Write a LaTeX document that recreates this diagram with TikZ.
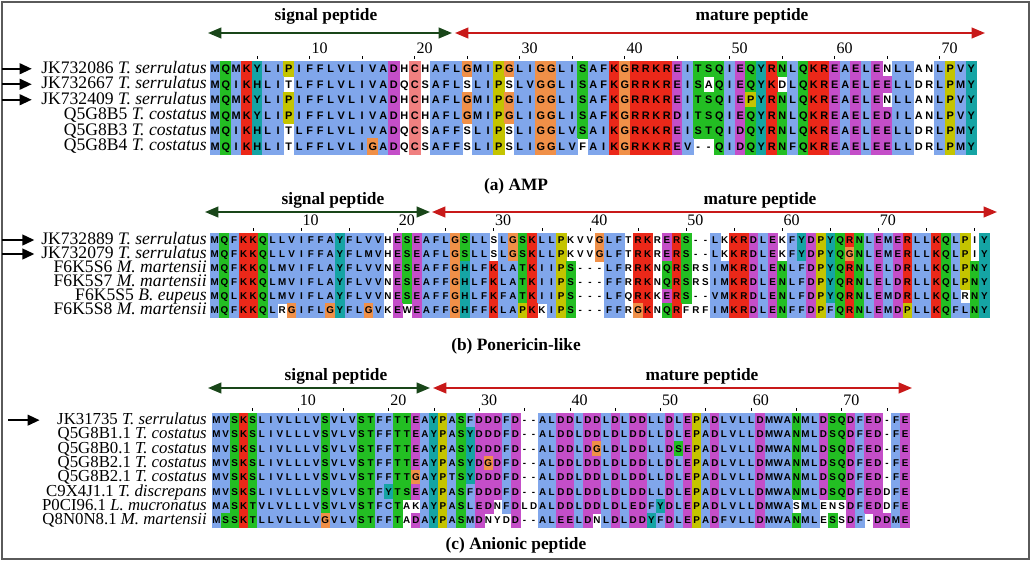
\documentclass[tikz,border=0pt]{standalone}
\usepackage{fontspec}
\setmainfont{Liberation Serif}
\setsansfont{Liberation Sans}
\usetikzlibrary{arrows.meta, positioning}
\definecolor{cxblue}{RGB}{128,166,235}
\definecolor{cxred}{RGB}{235,40,25}
\definecolor{cxgreen}{RGB}{35,190,35}
\definecolor{cxpink}{RGB}{240,128,128}
\definecolor{cxmagenta}{RGB}{196,78,200}
\definecolor{cxorange}{RGB}{240,144,72}
\definecolor{cxcyan}{RGB}{21,164,164}
\definecolor{cxyellow}{RGB}{196,196,0}
\definecolor{siggreen}{RGB}{25,70,25}
\definecolor{matred}{RGB}{200,25,25}
\definecolor{framegray}{RGB}{90,90,90}

% one alignment row: residue letter followed by its colour code
\newcount\rescol
\def\resrow#1#2#3{\def\rowid{#1}\def\rowtop{#2}\rescol=0
  \expandafter\resnext#3\relax\relax}
\def\resnext#1#2{\ifx\relax#1\else
  \advance\rescol by 1
  \pgfmathsetmacro\cellx{\colx+(\the\rescol-1)*\colw}
  \fill[res#2] (\cellx,\rowtop) rectangle ++(\colw,\rowh);
  \node[resletter] (\rowid-\the\rescol) at ({\cellx+\colw/2},{\rowtop+\rowh/2+\resdrop}) {#1};
  \expandafter\resnext\fi}

\tikzset{
  resletter/.style={inner sep=0pt, anchor=base, font=\resfont},
  resb/.style={fill=cxblue, draw=cxblue, line width=0.2pt},
  resr/.style={fill=cxred, draw=cxred, line width=0.2pt},
  resg/.style={fill=cxgreen, draw=cxgreen, line width=0.2pt},
  resk/.style={fill=cxpink, draw=cxpink, line width=0.2pt},
  resm/.style={fill=cxmagenta, draw=cxmagenta, line width=0.2pt},
  reso/.style={fill=cxorange, draw=cxorange, line width=0.2pt},
  resc/.style={fill=cxcyan, draw=cxcyan, line width=0.2pt},
  resy/.style={fill=cxyellow, draw=cxyellow, line width=0.2pt},
  resw/.style={fill=none},
  seqname/.style={inner sep=0pt, anchor=base east, font=\fontsize{13.2}{15}\selectfont},
  secttitle/.style={inner sep=0pt, anchor=base, font=\fontsize{13}{15}\selectfont\bfseries},
  panellabel/.style={inner sep=0pt, anchor=base, font=\fontsize{13}{15}\selectfont\bfseries},
  rulenum/.style={inner sep=0pt, anchor=base west, font=\fontsize{12}{14}\selectfont},
  rultick/.style={black, line width=0.5pt},
  sigarrow/.style={siggreen, line width=1.5pt, {Triangle[length=10pt,width=8pt]}-{Triangle[length=10pt,width=8pt]}},
  matarrow/.style={matred, line width=1.5pt, {Triangle[length=10pt,width=8pt]}-{Triangle[length=10pt,width=8pt]}},
  markarrow/.style={black, line width=1.5pt, -{Triangle[length=9pt,width=8pt]}}
}

\begin{document}
\begin{tikzpicture}[x=0.75pt, y=-0.75pt]
    \useasboundingbox (0,0) rectangle (1032,561);
    \draw[framegray, line width=1.2pt] (2,2) rectangle (1029,559);

    % (a) AMP
    \node[secttitle] (sigA) at (326,20.5) {signal peptide};
    \node[secttitle] (matA) at (752,20.5) {mature peptide};
    \coordinate (sigA-l) at (208,33);
    \coordinate (sigA-r) at (452,33);
    \coordinate (matA-l) at (455,33);
    \coordinate (matA-r) at (985,33);
    \draw[sigarrow] (sigA-l) -- (sigA-r);
    \draw[matarrow] (matA-l) -- (matA-r);

    \def\colx{210}\def\colw{10.5}\def\rowh{15.5}\def\resdrop{3.9}
    \def\resfont{\sffamily\bfseries\fontsize{8.2}{9}\selectfont}
    \foreach \n in {10,20,...,70}
        \node[rulenum] (rA\n) at ({\colx+(\n-0.5)*\colw+1.5},53) {\n};
    \foreach \n in {5,10,...,70}
        \draw[rultick] ({\colx+(\n-0.5)*\colw},56) -- ++(0,2.5);

    \resrow{a1}{61}{MbQgMbKrYcLbIbPyIbFb FbLbVbLbIbVbAbDmHwCk HwAbFbLbGoMbIbPyGoLb IbGoGoLbIbSgAbFbKrGo RrRrKrRrEmIbTgSgQgIb EmQgYcRrNgLbQgKrRrEm AbEmLbEmNwLbLbAwNwLb PyVbYc}
    \resrow{a2}{76.5}{MbQgIbKrHcLbIbTwLbFb FbLbVbLbIbVbAbDmQwCk SwAbFbLbSwLbIbPySwLb VbGoGoLbIbSgAbFbKrGo RrRrKrRrEmIbSgAwQgIb EmQgYcKrDwLbQgKrRrEm AbEmLbEmEmLbLbDwRwLb PyMbYc}
    \resrow{a3}{92}{MbQgMbKrYcLbIbPyIbFb FbLbVbLbIbVbAbDmHwCk HwAbFbLbGoMbIbPyGoLb IbGoGoLbIbSgAbFbKrGo RrRrKrRrEmIbTgSgQgIb EmPyYcRrNgLbQgKrRrEm AbEmLbEmNwLbLbAwNwLb PyVbYc}
    \resrow{a4}{107.5}{MbQgMbKrYcLbIbPyIbFb FbLbVbLbIbVbAbDmHwCk HwAbFbLbGoMbIbPyGoLb IbGoGoLbIbSgAbFbKrGo RrRrKrRrDmIbTgSgQgIb EmQgYcRrNgLbQgKrRrEm AbEmLbEmDmIbLbAwNwLb PyVbYc}
    \resrow{a5}{123}{MbQgIbKrHcLbIbTwLbFb FbLbVbLbIbVbAbDmQwCk SwAbFbFbSwLbIbPySwLb IbGoGoLbVbSgAbIbKrGo RrKrKrRrEmIbSgTgQgIb DmQgYcRrNgLbQgKrRrEm AbEmLbEmEmLbLbDwRwLb PyMbYc}
    \resrow{a6}{138.5}{MbQgIbKrHcLbIbTwLbFb FbLbVbLbIbGoAbDmQwCk SwAbFbFbSwLbIbPySwLb IbGoGoLbVbFwAbIbKrGo RrKrKrRrEmVb-w-wQgIb DmQgYcRrNgFbQgKrRrEm AbEmLbEmEmLbLbDwRwLb PyMbYc}

    \node[seqname] (la1) at (207,73.25) {JK732086 \textit{T. serrulatus}};
    \node[seqname] (la2) at (207,88.75) {JK732667 \textit{T. serrulatus}};
    \node[seqname] (la3) at (207,104.25) {JK732409 \textit{T. serrulatus}};
    \node[seqname] (la4) at (207,119.75) {Q5G8B5 \textit{T. costatus}};
    \node[seqname] (la5) at (207,135.25) {Q5G8B3 \textit{T. costatus}};
    \node[seqname] (la6) at (207,150.75) {Q5G8B4 \textit{T. costatus}};

    \coordinate (inA1) at (2,68.75);
    \coordinate (inA2) at (2,84.25);
    \coordinate (inA3) at (2,99.75);
    \draw[markarrow, shorten >=7pt] (inA1) -- (la1.west |- inA1);
    \draw[markarrow, shorten >=7pt] (inA2) -- (la2.west |- inA2);
    \draw[markarrow, shorten >=7pt] (inA3) -- (la3.west |- inA3);

    \node[panellabel] (capA) at (516,190) {(a) AMP};

    % (b) Ponericin-like
    \node[secttitle] (sigB) at (333,204) {signal peptide};
    \node[secttitle] (matB) at (760,204) {mature peptide};
    \coordinate (sigB-l) at (205,212);
    \coordinate (sigB-r) at (430,212);
    \coordinate (matB-l) at (432,212);
    \coordinate (matB-r) at (997,212);
    \draw[sigarrow] (sigB-l) -- (sigB-r);
    \draw[matarrow] (matB-l) -- (matB-r);

    \def\colx{210}\def\colw{9.62}\def\rowh{14}\def\resdrop{3.5}
    \def\resfont{\sffamily\bfseries\fontsize{7.4}{8}\selectfont}
    \foreach \n in {10,20,...,70}
        \node[rulenum] (rB\n) at ({\colx+(\n-0.5)*\colw+1},225) {\n};
    \foreach \n in {5,10,...,80}
        \draw[rultick] ({\colx+(\n-0.5)*\colw},228) -- ++(0,2.5);

    \resrow{b1}{233}{MbQgFbKrKrQgLbLbVbIb FbFbAbYcFbLbVbVbHwEm SgEmAbFbLbGoSgLbLbSw LbGoSgKrLbLbPyKwVwVw GoLbFbTwRrKrRwEmRrSg -w-wLbKwKrRrDmLbEmKw FbYcDmPyYcQgRrNgLbEm MbEmRrLbLbKrQgLbPyIwYc}
    \resrow{b2}{247}{MbQgFbKrKrQgLbLbVbIb FbFbAbYcFbLbMbVbHwEm SgEmAbFbLbGoSgLbLbSw LbGoSgKrLbLbPyKwVwVw GoLbFbTwRrKrRwEmRrSg -w-wLbKwKrRrDmLbEmKw FbYcDmPyYcQgGoNgLbEm MbEmRrLbLbKrQgLbPyIwYc}
    \resrow{b3}{261}{MbQgFbKrKrQgLbMbVbIb FbLbAbYcFbLbVbVbNwEm SgEmAbFbFbGoHcLbFbKr LbAbTgKrIbIbPySg-w-w -wLbFbRwRrKrNwQgRrSg RwSwIbMbKrRrDmLbEmNg LbFbDmPyYcQgRrNgLbEm LbDmRrLbLbKrQgLbPyNgYc}
    \resrow{b4}{275}{MbQgFbKrKrQgLbMbVbIb FbLbAbYcFbLbVbVbNwEm SgEmAbFbFbGoHcLbFbKr LbAbTgKrIbIbPySg-w-w -wFbFbRwRrKrNwQgRrSg RwSwIbMbKrRrDmLbEmNg LbFbDmPyYcQgRrNgLbEm LbDmRrLbLbKrQgLbPyNgYc}
    \resrow{b5}{289}{MbQgLbKrKrQgLbMbVbIb FbLbAbYcFbLbVbVbNwEm SgEmAbFbFbGoHcLbFbKr FbAbTgKrIbIbPySg-w-w -wLbFbQwRrKrKwEmRrSg -w-wVbMbKrRrDmLbEmNg LbFbDmPyYcQgRrNgLbEm MbDmRrLbLbKrQgLbRwNgYc}
    \resrow{b6}{303}{MbQgFbKrKrQgLbRwGoIb FbLbGoYcFbLbGoVbKwEm WwEmAbFbFbGoHcFbFbKr LbAbPyKrKwIbPySg-w-w -wFbFbRwGoKrNwQgRrFw RwFwIbMbKrRrDmLbEmNg FbFbDmPyFbQgRrNgLbEm MbDmPyLbLbKrQgFbLbNgYc}

    \node[seqname] (lb1) at (207,244.5) {JK732889 \textit{T. serrulatus}};
    \node[seqname] (lb2) at (207,258.5) {JK732079 \textit{T. serrulatus}};
    \node[seqname] (lb3) at (207,272.5) {F6K5S6 \textit{M. martensii}};
    \node[seqname] (lb4) at (207,286.5) {F6K5S7 \textit{M. martensii}};
    \node[seqname] (lb5) at (207,300.5) {F6K5S5 \textit{B. eupeus}};
    \node[seqname] (lb6) at (207,314.5) {F6K5S8 \textit{M. martensii}};

    \coordinate (inB1) at (2,240);
    \coordinate (inB2) at (2,254);
    \draw[markarrow, shorten >=5pt] (inB1) -- (lb1.west |- inB1);
    \draw[markarrow, shorten >=5pt] (inB2) -- (lb2.west |- inB2);

    \node[panellabel] (capB) at (516,350) {(b) Ponericin-like};

    % (c) Anionic peptide
    \node[secttitle] (sigC) at (336,380) {signal peptide};
    \node[secttitle] (matC) at (702,380) {mature peptide};
    \coordinate (sigC-l) at (208,388);
    \coordinate (sigC-r) at (430,388);
    \coordinate (matC-l) at (433,388);
    \coordinate (matC-r) at (912,388);
    \draw[sigarrow] (sigC-l) -- (sigC-r);
    \draw[matarrow] (matC-l) -- (matC-r);

    \def\colx{212}\def\colw{9.06}\def\rowh{14.3}\def\resdrop{3.5}
    \def\resfont{\sffamily\bfseries\fontsize{7.4}{8}\selectfont}
    \foreach \n in {10,20,...,70}
        \node[rulenum] (rC\n) at ({\colx+(\n-0.5)*\colw+1.5},405) {\n};
    \foreach \n in {5,10,...,75}
        \draw[rultick] ({\colx+(\n-0.5)*\colw},408) -- ++(0,2.5);

    \resrow{c1}{413}{MbVbSgKrSgLbIbVbLbLb LbVbSgVbLbVbSgTgFbFb TgTgEmAbYcPyAbSgFbDm DmDmFbDm-w-wAbLbDmDm LbDmDmLbDmLbDmDmLbLb DmLbEmPyAbDmLbVbLbLb DmMbWbAbNgMbLbDmSgQg DmFbEmDm-wFbEm}
    \resrow{c2}{427.3}{MbVbSgKrSgLbIbVbLbLb LbVbSgVbLbVbSgTgFbFb TgTgEmAbYcPyAbSgYcDm DmDmFbDm-w-wAbLbDmDm LbDmDmLbDmLbDmDmLbLb DmLbEmPyAbDmLbVbLbLb DmMbWbAbNgMbLbDmSgQg DmFbEmDm-wFbEm}
    \resrow{c3}{441.6}{MbVbSgKrSgLbIbVbLbLb LbVbSgVbLbVbSgTgFbFb TgTgEmAbYcPyAbSgYcDm DmDmFbDm-w-wAbLbDmDm LbDmGoLbDmLbDmDmLbLb DmSgEmPyAbDmLbVbLbLb DmMbWbAbNgMbLbDmSgQg DmFbEmDm-wFbEm}
    \resrow{c4}{455.9}{MbVbSgKrSgLbIbVbLbLb LbVbSgVbLbVbSgTgFbFb TgTgEmAbYcPyAbSgYcDm GoDmFbDm-w-wAbLbDmDm LbDmDmLbDmLbDmDmLbLb DmLbEmPyAbDmLbVbLbLb DmMbWbAbNgMbLbDmSgQg DmFbEmDm-wFbEm}
    \resrow{c5}{470.2}{MbVbSgKrSgLbIbVbLbLb LbVbSgVbLbVbSgTgFbFb TgTgGoAbYcPyTbSgYcDm DmDmFbDm-w-wAbLbDmDm LbDmDmLbDmLbDmDmLbLb DmLbEmPyAbDmLbVbLbLb DmMbWbAbNgMbLbDmSgQg DmFbEmDm-wFbEm}
    \resrow{c6}{484.5}{MbVbSgKrSgLbIbVbLbLb LbVbSgVbLbVbSgTgFbYc TgSgEmAbYcPyAbSgFbDm DmDmFbDm-w-wAbLbDmDm LbDmDmLbDmLbDmDmLbLb DmLbEmPyAbDmLbVbLbLb DmMbWbAbNgMbLbDmSgQg DmFbEmDmDwFbEm}
    \resrow{c7}{498.8}{MbAbSgKrTgVbLbVbLbLb LbVbSgVbLbVbSgTgFbCb TgAwKwAbYcPyAbSgLbEm DmNwFbDmLwDwAbLbDmDm LbDmDmLbDmLbEmDmFbYc DmLbEmPyAbDmLbVbLbLb DmMbWbAbSwMbLbEwNwSw DmFbEmDmDwFbEm}
    \resrow{c8}{513.1}{MbSgSgKrTgLbLbVbLbLb LbVbGoVbLbVbSgTgFbFb TgAwDmAbYcPyAbSgMbDm NwYwDwDm-w-wAbLbEmEm LbDmNwLbDmLbDmDmYcFb DmLbEmPyAbDmFbVbLbLb DmMbWbAbNgMbLbEwSgSw DmFb-wDmDmMbEm}

    \node[seqname, font=\fontsize{12.6}{14}\selectfont] (lc1) at (207,424.5) {JK31735 \textit{T. serrulatus}};
    \node[seqname, font=\fontsize{12.6}{14}\selectfont] (lc2) at (207,438.8) {Q5G8B1.1 \textit{T. costatus}};
    \node[seqname, font=\fontsize{12.6}{14}\selectfont] (lc3) at (207,453.1) {Q5G8B0.1 \textit{T. costatus}};
    \node[seqname, font=\fontsize{12.6}{14}\selectfont] (lc4) at (207,467.4) {Q5G8B2.1 \textit{T. costatus}};
    \node[seqname, font=\fontsize{12.6}{14}\selectfont] (lc5) at (207,481.7) {Q5G8B2.1 \textit{T. costatus}};
    \node[seqname, font=\fontsize{12.6}{14}\selectfont] (lc6) at (207,496) {C9X4J1.1 \textit{T. discrepans}};
    \node[seqname, font=\fontsize{12.6}{14}\selectfont] (lc7) at (207,510.3) {P0CI96.1 \textit{L. mucronatus}};
    \node[seqname, font=\fontsize{12.6}{14}\selectfont] (lc8) at (207,524.6) {Q8N0N8.1 \textit{M. martensii}};

    \coordinate (inC1) at (8,420.15);
    \draw[markarrow, shorten >=13pt] (inC1) -- (lc1.west |- inC1);

    \node[panellabel] (capC) at (516,549) {(c) Anionic peptide};
\end{tikzpicture}
\end{document}
